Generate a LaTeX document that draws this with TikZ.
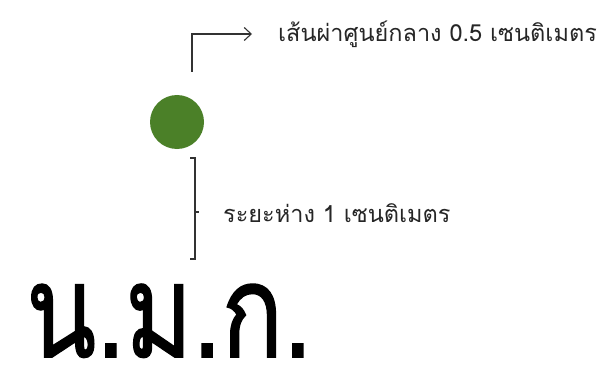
\documentclass[tikz,border=0pt]{standalone}
\usepackage{fontspec}
\usetikzlibrary{arrows.meta}
\newfontfamily\thaifont[Script=Thai]{Loma}
\newfontfamily\thaibig[Script=Thai, FakeBold=1.2]{Loma}
\definecolor{dotgreen}{RGB}{75,128,40}
\definecolor{linegray}{RGB}{50,50,50}
\tikzset{
  label text/.style={font=\thaifont\fontsize{23.5}{26}\selectfont, inner sep=0pt, text=black!85},
  guide/.style={draw=linegray, line width=1.1pt},
}
\begin{document}
\begin{tikzpicture}[x=1pt,y=-1pt]
\useasboundingbox (0,0) rectangle (608,369);
\node[circle, fill=dotgreen, minimum size=54pt, inner sep=0pt] (dot) at (177,122) {};
\node[label text, anchor=west] (t1) at (278,34) {เส้นผ่าศูนย์กลาง 0.5 เซนติเมตร};
\node[label text, anchor=west] (t2) at (223,213) {ระยะห่าง 1 เซนติเมตร};
\coordinate (a0) at (192,72);
\draw[guide, -{Straight Barb[length=7pt,width=13pt]}, shorten >=26pt] (a0) |- (t1.west);
\coordinate (btop) at (195,158);
\coordinate (bbot) at (195,259);
\coordinate (bmid) at (195,212);
\draw[guide] ([xshift=-5pt]btop) -- (btop) -- (bbot) -- ([xshift=-5pt]bbot);
\draw[guide] (bmid) -- ([xshift=4pt]bmid);
\node[font=\thaibig\fontsize{130}{140}\selectfont, anchor=base west, inner sep=0pt, text depth=0pt] (t3) at (26,357) {\scalebox{0.79}[1]{น.ม.ก.}};
\end{tikzpicture}
\end{document}
